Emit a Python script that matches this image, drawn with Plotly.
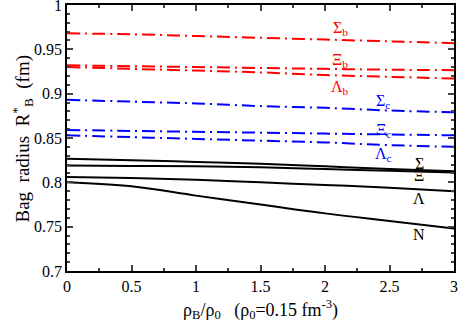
import plotly.graph_objects as go

# baryon density in units of rho_0
rho = [0, 0.5, 1, 1.5, 2, 2.5, 3]

# bag radius R*_B (fm)
sigma_b = [0.968, 0.967, 0.965, 0.963, 0.961, 0.959, 0.957]
xi_b = [0.932, 0.931, 0.930, 0.929, 0.928, 0.927, 0.9265]
lambda_b = [0.930, 0.928, 0.926, 0.924, 0.921, 0.919, 0.917]
sigma_c = [0.893, 0.891, 0.889, 0.886, 0.884, 0.881, 0.879]
xi_c = [0.859, 0.858, 0.857, 0.856, 0.855, 0.854, 0.853]
lambda_c = [0.853, 0.851, 0.849, 0.847, 0.845, 0.842, 0.840]
sigma = [0.8265, 0.825, 0.823, 0.821, 0.818, 0.815, 0.8125]
xi = [0.819, 0.8185, 0.818, 0.817, 0.815, 0.813, 0.811]
lam = [0.806, 0.805, 0.803, 0.800, 0.797, 0.794, 0.790]
nucleon = [0.800, 0.7955, 0.785, 0.775, 0.765, 0.7565, 0.748]

series = [
    (sigma_b, 'red', 'dashdot'), (xi_b, 'red', 'dashdot'), (lambda_b, 'red', 'dashdot'),
    (sigma_c, 'blue', 'dashdot'), (xi_c, 'blue', 'dashdot'), (lambda_c, 'blue', 'dashdot'),
    (sigma, 'black', 'solid'), (xi, 'black', 'solid'), (lam, 'black', 'solid'), (nucleon, 'black', 'solid'),
]

# curve labels: text, x, y, colour
labels = [
    ('Σ<sub>b</sub>', 2.12, 0.974, 'red'), ('Ξ<sub>b</sub>', 2.12, 0.937, 'red'), ('Λ<sub>b</sub>', 2.12, 0.907, 'red'),
    ('Σ<sub>c</sub>', 2.45, 0.891, 'blue'), ('Ξ<sub>c</sub>', 2.45, 0.859, 'blue'), ('Λ<sub>c</sub>', 2.45, 0.831, 'blue'),
    ('Σ', 2.73, 0.8215, 'black'), ('Ξ', 2.73, 0.8075, 'black'), ('Λ', 2.73, 0.782, 'black'), ('N', 2.73, 0.741, 'black'),
]

font = 'Liberation Serif, DejaVu Serif, serif'
fig = go.Figure()
for vals, col, dash in series:
    fig.add_trace(go.Scatter(x=rho, y=vals, mode='lines', line_shape='spline',
                             line=dict(color=col, width=2, dash='13px,5px,2px,5px' if dash == 'dashdot' else 'solid'),
                             showlegend=False))

for txt, x, y, col in labels:
    fig.add_annotation(x=x, y=y, text=txt, showarrow=False, font=dict(family=font, size=16, color=col))

# axis titles
fig.add_annotation(x=0.5, y=-0.143, xref='paper', yref='paper', showarrow=False, yanchor='middle',
                   text='ρ<sub>B</sub>/ρ<sub>0</sub>   (ρ<sub>0</sub>=0.15 fm<sup>-3</sup>)',
                   font=dict(family=font, size=18))
fig.add_annotation(x=-0.115, y=0.5, xref='paper', yref='paper', showarrow=False, textangle=-90,
                   xanchor='center', text='Bag  radius  R<sup>*</sup><sub>B</sub>  (fm)',
                   font=dict(family=font, size=19))

fig.update_layout(width=460, height=320, margin=dict(l=67, r=6, t=5, b=49),
                  plot_bgcolor='white', paper_bgcolor='white',
                  font=dict(family=font, size=16, color='black'))
fig.update_xaxes(range=[0, 3], dtick=0.5, ticks='inside', ticklen=6, tickwidth=1.5,
                 showline=True, linewidth=1.5, linecolor='black', mirror='allticks', showgrid=False,
                 zeroline=False, automargin=False, ticklabeloverflow='allow',
                 minor=dict(ticks='inside', dtick=0.25, ticklen=3, tickwidth=1.5))
fig.update_yaxes(range=[0.7, 1.0], dtick=0.05, ticks='inside', ticklen=6, tickwidth=1.5,
                 showline=True, linewidth=1.5, linecolor='black', mirror='allticks', showgrid=False,
                 zeroline=False, automargin=False, ticklabeloverflow='allow',
                 minor=dict(ticks='inside', dtick=0.01, ticklen=3, tickwidth=1.5))

fig.write_html("out.html", config={'displayModeBar': False},
               post_script="document.body.style.margin='0';")
